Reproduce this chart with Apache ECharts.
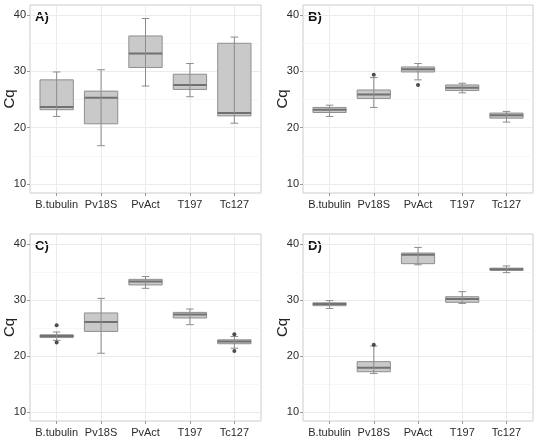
<!DOCTYPE html>
<html>
<head>
<meta charset="utf-8">
<script src="https://cdn.jsdelivr.net/npm/echarts@6/dist/echarts.min.js"></script>
<style>
  html, body { margin: 0; background: #fff; }
  #chart { width: 539px; height: 437px; }
</style>
</head>
<body>
<div id="chart"></div>
<script>
const genes = ['B.tubulin', 'Pv18S', 'PvAct', 'T197', 'Tc127']
// each row: [low whisker, Q1, median, Q3, high whisker]
const statsA = [
  [22.0, 23.2, 23.7, 28.5, 29.9],
  [16.8, 20.7, 25.3, 26.5, 30.3],
  [27.4, 30.7, 33.2, 36.3, 39.4],
  [25.5, 26.8, 27.6, 29.5, 31.4],
  [20.8, 22.1, 22.6, 35.0, 36.1]
]
const statsB = [
  [22.0, 22.7, 23.2, 23.6, 24.0],
  [23.6, 25.2, 25.9, 26.7, 28.9],
  [28.5, 29.9, 30.4, 30.8, 31.4],
  [26.2, 26.6, 27.1, 27.6, 27.9],
  [21.0, 21.7, 22.2, 22.6, 22.9]
]
const statsC = [
  [22.8, 23.3, 23.6, 23.8, 24.3],
  [20.5, 24.4, 26.1, 27.7, 30.3],
  [32.1, 32.7, 33.3, 33.7, 34.2],
  [25.6, 26.8, 27.4, 27.8, 28.4],
  [21.4, 22.2, 22.6, 22.9, 23.5]
]
const statsD = [
  [28.5, 29.0, 29.3, 29.5, 29.9],
  [16.9, 17.2, 17.9, 19.0, 21.8],
  [36.3, 36.5, 38.1, 38.4, 39.4],
  [29.4, 29.6, 30.2, 30.6, 31.5],
  [34.9, 35.3, 35.5, 35.7, 36.1]
]
// outliers: [gene index, value]
const outliersA = []
const outliersB = [[1, 29.4], [2, 27.6]]
const outliersC = [[0, 25.5], [0, 22.4], [4, 23.9], [4, 20.9]]
const outliersD = [[1, 22.0]]
const panelLabels = ['A)', 'B)', 'C)', 'D)']
const yTicks = [10, 20, 30, 40]
const yMinorTicks = [15, 25, 35]

const panels = [statsA, statsB, statsC, statsD]
const panelOutliers = [outliersA, outliersB, outliersC, outliersD]
const geneIdx = genes.map((g, i) => i + 1)

const grids = [
  { left: 30, top: 5, width: 231, height: 188 },
  { left: 303, top: 5, width: 230, height: 188 },
  { left: 30, top: 234, width: 231, height: 187 },
  { left: 303, top: 234, width: 230, height: 187 }
]

const font = 'Liberation Sans, Arial, sans-serif'

function renderBox(params, api) {
  const x = api.value(0)
  const lo = api.coord([x, api.value(1)])
  const q1 = api.coord([x, api.value(2)])
  const md = api.coord([x, api.value(3)])
  const q3 = api.coord([x, api.value(4)])
  const hi = api.coord([x, api.value(5)])
  const bw = api.size([0.75, 0])[0]
  const cw = api.size([0.17, 0])[0]
  const cx = lo[0]
  const whisk = { stroke: '#8c8c8c', lineWidth: 1 }
  return {
    type: 'group',
    children: [
      { type: 'rect', shape: { x: cx - bw / 2, y: q3[1], width: bw, height: q1[1] - q3[1] },
        style: { fill: '#c9c9c9', stroke: '#8f8f8f', lineWidth: 1 } },
      { type: 'line', shape: { x1: cx - bw / 2, y1: md[1], x2: cx + bw / 2, y2: md[1] },
        style: { stroke: '#717171', lineWidth: 2 } },
      { type: 'line', shape: { x1: cx, y1: lo[1], x2: cx, y2: hi[1] }, style: whisk },
      { type: 'line', shape: { x1: cx - cw / 2, y1: lo[1], x2: cx + cw / 2, y2: lo[1] }, style: whisk },
      { type: 'line', shape: { x1: cx - cw / 2, y1: hi[1], x2: cx + cw / 2, y2: hi[1] }, style: whisk }
    ]
  }
}

const xAxis = []
const yAxis = []
const series = []
const graphic = []

grids.forEach((g, k) => {
  xAxis.push({
    type: 'value',
    gridIndex: k,
    min: 0.4,
    max: 5.6,
    axisLine: { show: false },
    axisTick: { customValues: geneIdx, length: 3, lineStyle: { color: '#999' } },
    axisLabel: {
      customValues: geneIdx,
      formatter: (v) => genes[Math.round(v) - 1],
      showMinLabel: true,
      showMaxLabel: true,
      hideOverlap: false,
      color: '#2b2b2b',
      fontSize: 11,
      fontFamily: font,
      margin: 6
    },
    splitLine: { show: true, lineStyle: { color: '#ebebeb', width: 1 } }
  })
  yAxis.push({
    type: 'value',
    gridIndex: k,
    min: 8.4,
    max: 41.8,
    name: 'Cq',
    nameLocation: 'middle',
    nameGap: 13,
    nameMoveOverlap: false,
    nameTextStyle: { fontSize: 15, color: '#222', fontFamily: font },
    axisLine: { show: false },
    axisTick: { customValues: yTicks, length: 3, lineStyle: { color: '#999' } },
    axisLabel: { customValues: yTicks, showMinLabel: true, showMaxLabel: true, color: '#2b2b2b', fontSize: 11, fontFamily: font, margin: 4 },
    splitLine: { show: true, lineStyle: { color: '#ebebeb', width: 1 } }
  })
  // minor horizontal grid lines
  yAxis.push({
    type: 'value',
    gridIndex: k,
    position: 'left',
    min: 8.4,
    max: 41.8,
    axisLine: { show: false },
    axisTick: { show: false, customValues: yMinorTicks },
    axisLabel: { show: false, customValues: yMinorTicks },
    splitLine: { show: true, lineStyle: { color: '#f6f6f6', width: 1 } }
  })
  series.push({
    type: 'custom',
    xAxisIndex: k,
    yAxisIndex: 2 * k,
    renderItem: renderBox,
    encode: { x: 0, y: [1, 2, 3, 4, 5] },
    data: panels[k].map((s, i) => [i + 1].concat(s)),
    z: 3
  })
  series.push({
    type: 'scatter',
    xAxisIndex: k,
    yAxisIndex: 2 * k,
    symbolSize: 4,
    itemStyle: { color: '#222' },
    data: panelOutliers[k].map((o) => [o[0] + 1, o[1]]),
    z: 4
  })
  graphic.push({
    type: 'text',
    left: g.left + 5,
    top: g.top + 6,
    style: { text: panelLabels[k], font: 'bold 13px ' + font, fill: '#111' }
  })
})

const chart = echarts.init(document.getElementById('chart'))
chart.setOption({
  animation: false,
  backgroundColor: '#fff',
  grid: grids.map((g) => Object.assign({
    show: true, borderColor: '#cccccc', borderWidth: 1, backgroundColor: '#fff',
    containLabel: false, outerBoundsMode: 'none'
  }, g)),
  xAxis: xAxis,
  yAxis: yAxis,
  series: series,
  graphic: graphic
})
</script>
</body>
</html>
